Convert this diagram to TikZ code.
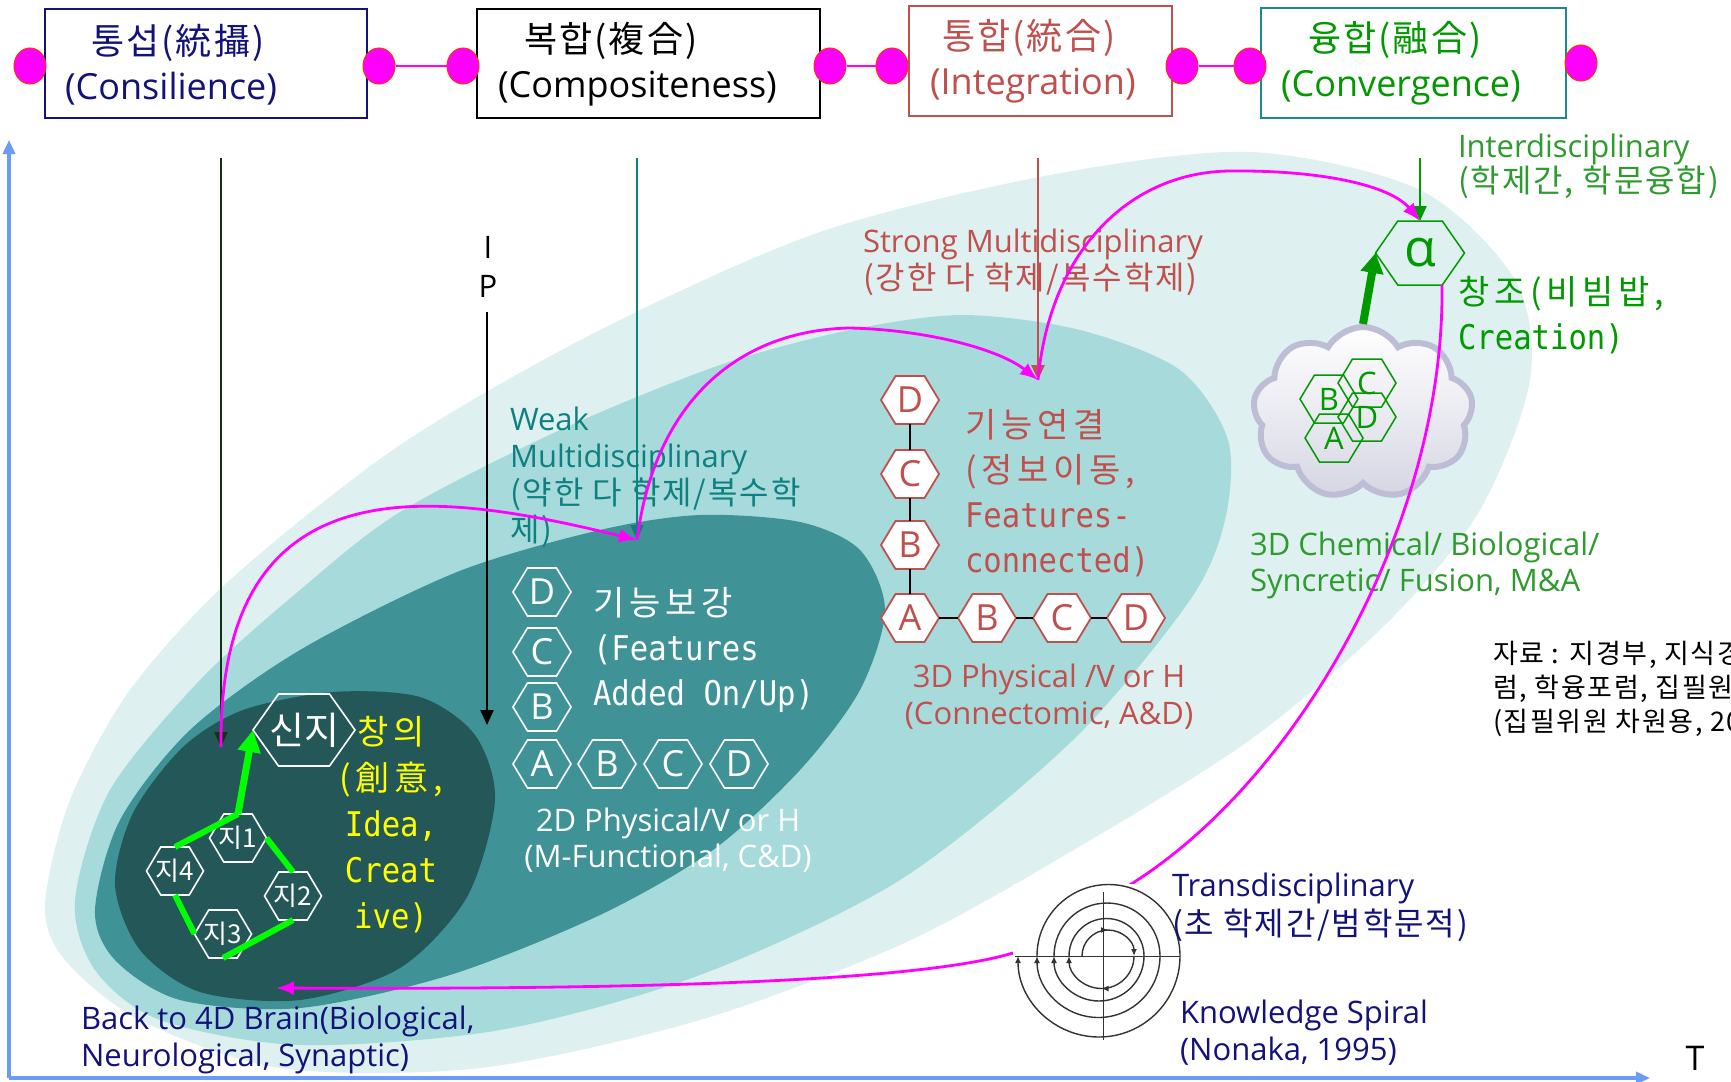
\documentclass[tikz,border=0pt]{standalone}
\usepackage{fontspec}
\setmainfont{Open Sans}
\newfontfamily\kr{Noto Sans CJK KR}
\newfontfamily\krw[LetterSpace=6]{Noto Sans CJK KR}
\newfontfamily\krm[LetterSpace=14]{Noto Sans CJK KR}
\newfontfamily\mono[FakeStretch=0.9]{DejaVu Sans Mono}
\usetikzlibrary{arrows.meta,calc,shapes.geometric,shapes.symbols,decorations.markings}
\newcommand\fsz[2]{\fontsize{#1}{#2}\selectfont}
\definecolor{bandA}{HTML}{DFF0F0}
\definecolor{bandB}{HTML}{A7DBDB}
\definecolor{bandC}{HTML}{3F9396}
\definecolor{bandD}{HTML}{245758}
\definecolor{navyT}{HTML}{12127A}
\definecolor{redT}{HTML}{C0504D}
\definecolor{tealT}{HTML}{0F8080}
\definecolor{boxTeal}{HTML}{1A8A8A}
\definecolor{greenL}{HTML}{009900}
\definecolor{greenT}{HTML}{2E9B2E}
\definecolor{glime}{HTML}{00FF00}
\definecolor{mag}{HTML}{FF00FF}
\definecolor{dotR}{HTML}{FF3300}
\definecolor{axisB}{HTML}{6B9BF5}
\definecolor{cloudE}{HTML}{BDBDD6}
\definecolor{cloudS}{HTML}{D6D6E4}
\definecolor{darkG}{HTML}{143214}
\definecolor{spiralC}{HTML}{333333}
\definecolor{yellowT}{HTML}{FFFF00}
% hexagon drawn from centre and half sizes, with a named node on top
\newcommand\hexnode[8]{%
  \path[#1] (#4-#6,#5) -- (#4-#6/2,#5-#7) -- (#4+#6/2,#5-#7) -- (#4+#6,#5)
     -- (#4+#6/2,#5+#7) -- (#4-#6/2,#5+#7) -- cycle;
  \node[hexlabel,#2,minimum width=2*#6,minimum height=2*#7] (#3) at (#4,#5) {#8};}
\begin{document}
\begin{tikzpicture}[x=1pt,y=-1pt,
  box/.style={draw,line width=1.8pt,inner sep=0pt},
  dot/.style={ellipse,fill=mag,draw=dotR,line width=1pt,minimum width=32pt,minimum height=36pt,inner sep=0pt},
  dotlink/.style={draw=mag,line width=2pt},
  lbl/.style={inner sep=0pt,outer sep=0pt,align=left,anchor=west},
  clbl/.style={inner sep=0pt,outer sep=0pt,align=center},
  hexlabel/.style={rectangle,inner sep=0pt,outer sep=0pt},
  hexW/.style={draw=white,line width=1.6pt},
  hexR/.style={draw=redT,fill=white,line width=1.8pt},
  hexG/.style={draw=greenL,line width=1.5pt},
  vline/.style={line width=2.2pt,-{Triangle[length=15pt,width=13pt]}},
  magarrow/.style={draw=mag,line width=2.8pt,-{Latex[length=18pt,width=14pt]}},
  link/.style={draw=black,line width=1.8pt},
  gline/.style={draw=glime,line width=6pt},
  garrow/.style={draw=glime,line width=7pt,-{Triangle[length=22pt,width=22pt]}},
  galpha/.style={draw=greenL,line width=8pt,-{Triangle[length=20pt,width=22pt]}},
  axis/.style={draw=axisB,line width=4pt,-{Triangle[length=14pt,width=12pt]}},
  spiral/.style={draw=spiralC,line width=1.4pt},
  tipS/.style={-{Latex[length=7pt,width=6pt]}},
  midtip/.style={postaction={decorate},decoration={markings,mark=at position 0.5 with {\arrow{Latex[length=7pt,width=6pt]}}}},
]
\useasboundingbox (0,0) rectangle (1731,1081);
\fill[white] (0,0) rectangle (1731,1081);

% nested bands
\fill[bandA] plot[smooth cycle] coordinates {(45,905) (70,800) (130,690) (230,580) (400,445) (600,330) (820,232) (1050,175) (1250,152) (1420,190) (1515,280) (1530,380) (1480,510) (1390,620) (1250,740) (1060,858) (900,945) (700,1020) (480,1068) (280,1068) (140,1020) (65,960)};
\fill[bandB] plot[smooth cycle] coordinates {(75,900) (110,790) (200,680) (300,590) (400,512) (560,430) (720,365) (850,330) (963,315) (1080,330) (1180,370) (1228,440) (1225,520) (1190,600) (1073,740) (900,880) (700,975) (500,1030) (300,1045) (160,1020) (95,970)};
\fill[bandC] plot[smooth cycle] coordinates {(95,910) (120,820) (190,730) (300,650) (457,572) (600,530) (700,515) (800,522) (860,550) (885,610) (860,690) (800,770) (713,850) (600,915) (450,975) (300,1008) (180,1000) (115,960)};
\fill[bandD] plot[smooth cycle] coordinates {(115,885) (133,813) (183,747) (243,710) (333,692) (420,697) (475,735) (495,800) (467,897) (400,968) (300,1000) (200,992) (140,950)};

% axes
\coordinate (org) at (9,1078);
\coordinate (ytop) at (9,140);
\coordinate (xend) at (1650,1078);
\draw[axis] (org) -- (ytop);
\draw[axis] (org) -- (xend);
\node[inner sep=0pt,anchor=north,font=\fsz{34}{36}] (taxis) at (1695,1046) {T};

% top boxes
\node[box,draw=navyT,minimum width=322pt,minimum height=109pt] (b1) at (206,63.5) {};
\node[box,draw=black,minimum width=343pt,minimum height=109pt] (b2) at (648.5,63.5) {};
\node[box,draw=redT,minimum width=263pt,minimum height=110pt] (b3) at (1040.5,61) {};
\node[box,draw=boxTeal,minimum width=305pt,minimum height=110pt] (b4) at (1413.5,63) {};
\node[lbl,text=navyT,font=\fsz{36}{45}] (t1) at (65,64.5) {{\krw\hspace*{26pt}통섭(統攝)}\\(Consilience)};
\node[lbl,text=black,font=\fsz{36}{45}] (t2) at (498,64.5) {{\krw\hspace*{26pt}복합(複合)}\\(Compositeness)};
\node[lbl,text=redT,font=\fsz{36}{45}] (t3) at (930,61) {{\krw\hspace*{12pt}통합(統合)}\\(Integration)};
\node[lbl,text=greenL,font=\fsz{36}{45}] (t4) at (1281,63) {{\krw\hspace*{27pt}융합(融合)}\\(Convergence)};

\node[dot] (d1) at (30,66) {};
\node[dot] (d2) at (379,66) {};
\node[dot] (d3) at (463,66) {};
\node[dot] (d4) at (830,66) {};
\node[dot] (d5) at (892,66) {};
\node[dot] (d6) at (1182,66) {};
\node[dot] (d7) at (1250,66) {};
\node[dot] (d8) at (1581,63) {};
\draw[dotlink] (d2) -- (d3);
\draw[dotlink] (d4) -- (d5);
\draw[dotlink] (d6) -- (d7);

% labels
\node[lbl,text=tealT,font=\fsz{31}{37}] (weak) at (510,477) {Weak\\Multidisciplinary\\{\krw\fsz{32}{37}(약한 다 학제/복수학}\\{\krw\fsz{32}{37}제)}};
\node[lbl,text=redT,font=\fsz{31}{37}] (strong) at (863,262) {Strong Multidisciplinary\\{\krw\fsz{32}{37}(강한 다 학제/복수학제)}};
\node[lbl,text=greenT,font=\fsz{31}{35}] (inter) at (1458,166) {Interdisciplinary\\{\krw\fsz{32}{35}(학제간, 학문융합)}};
\node[lbl,text=greenL,font=\fsz{34}{45}] (creation) at (1458,315) {{\krm 창조(비빔밥,}\\{\mono Creation)}};
\node[lbl,text=greenT,font=\fsz{31}{36}] (chem) at (1250,565) {3D Chemical/ Biological/\\Syncretic/ Fusion, M\&A};
\node[lbl,text=redT,font=\fsz{34}{45}] (fconn) at (965,493) {{\krm 기능연결}\\{\krm (정보이동,}\\{\mono Features-}\\{\mono connected)}};
\node[clbl,text=redT,font=\fsz{31}{37}] (phys3) at (1049,697) {3D Physical /V or H\\(Connectomic, A\&D)};
\node[lbl,text=white,font=\fsz{34}{45}] (fadd) at (593,650) {{\krm 기능보강}\\{\mono (Features}\\{\mono Added On/Up)}};
\node[clbl,text=white,font=\fsz{31}{36}] (phys2) at (668,840) {2D Physical/V or H\\(M-Functional, C\&D)};
\node[clbl,text=yellowT,font=\fsz{34}{46}] (idea) at (391,825) {{\krm 창의}\\{\krm (創意,}\\{\mono Idea,}\\{\mono Creat}\\{\mono ive)}};
\node[lbl,text=navyT,font=\fsz{31}{37}] (back) at (81,1040) {Back to 4D Brain(Biological,\\Neurological, Synaptic)};
\node[lbl,text=black,font={\krw\fsz{27}{34}}] (source) at (1493,689) {자료 : 지경부, 지식경\\럼, 학융포럼, 집필원\\(집필위원 차원용, 20};
\node[clbl,text=black,font=\fsz{31}{39}] (ip) at (488,267) {I\\P};

% 2D hexagons
\hexnode{hexW}{text=white,font=\fsz{36}{36}}{wD}{542}{592}{29}{24}{D}
\hexnode{hexW}{text=white,font=\fsz{36}{36}}{wC}{542}{652}{29}{24}{C}
\hexnode{hexW}{text=white,font=\fsz{36}{36}}{wB}{542}{707}{29}{24}{B}
\hexnode{hexW}{text=white,font=\fsz{36}{36}}{wA}{542}{764}{29}{24}{A}
\hexnode{hexW}{text=white,font=\fsz{36}{36}}{wB2}{607}{764}{29}{24}{B}
\hexnode{hexW}{text=white,font=\fsz{36}{36}}{wC2}{673}{764}{29}{24}{C}
\hexnode{hexW}{text=white,font=\fsz{36}{36}}{wD2}{739}{764}{29}{24}{D}

% 3D hexagons
\hexnode{hexR}{text=redT,font=\fsz{36}{36}}{pD}{910}{400}{29}{24}{D}
\hexnode{hexR}{text=redT,font=\fsz{36}{36}}{pC}{910}{474}{29}{24}{C}
\hexnode{hexR}{text=redT,font=\fsz{36}{36}}{pB}{910}{545}{29}{24}{B}
\hexnode{hexR}{text=redT,font=\fsz{36}{36}}{pA}{910}{618}{29}{24}{A}
\hexnode{hexR}{text=redT,font=\fsz{36}{36}}{pB2}{987}{618}{29}{24}{B}
\hexnode{hexR}{text=redT,font=\fsz{36}{36}}{pC2}{1062}{618}{29}{24}{C}
\hexnode{hexR}{text=redT,font=\fsz{36}{36}}{pD2}{1136}{618}{29}{24}{D}
\draw[link] (pD) -- (pC);
\draw[link] (pC) -- (pB);
\draw[link] (pB) -- (pA);
\draw[link] (pA) -- (pB2);
\draw[link] (pB2) -- (pC2);
\draw[link] (pC2) -- (pD2);

% brain hexagons
\hexnode{hexW}{text=white,font={\kr\fsz{38}{38}}}{sinji}{304}{730}{51}{36}{신지}
\hexnode{hexW}{text=white,font={\kr\fsz{26}{26}}}{j1}{238}{838}{28.5}{24}{지1}
\hexnode{hexW}{text=white,font={\kr\fsz{26}{26}}}{j2}{293}{896}{28.5}{24}{지2}
\hexnode{hexW}{text=white,font={\kr\fsz{26}{26}}}{j3}{223}{934}{28.5}{24}{지3}
\hexnode{hexW}{text=white,font={\kr\fsz{26}{26}}}{j4}{175}{871}{28.5}{24}{지4}
\draw[gline] (j4.north) -- (j1.north);
\draw[gline] (j1.east) -- (j2.north);
\draw[gline] (j2.south) -- (j3.south);
\draw[gline] (j3.west) -- (j4.south);
\draw[garrow] (j1.north) -- (sinji.west);

% cloud with merged hexagons
\node[cloud,cloud puffs=9,cloud puff arc=120,aspect=1.25,minimum width=220pt,minimum height=172pt,
      draw=cloudE,line width=6pt,top color=white,middle color=white,bottom color=cloudS] (cloud) at (1363,413) {};
\hexnode{hexG}{text=greenL,font=\fsz{31}{31}}{cB}{1329}{399}{29}{24}{B}
\hexnode{hexG}{text=greenL,font=\fsz{31}{31}}{cC}{1367}{383}{29}{24}{C}
\hexnode{hexG}{text=greenL,font=\fsz{31}{31}}{cD}{1367}{417}{29}{24}{D}
\hexnode{hexG}{text=greenL,font=\fsz{31}{31}}{cA}{1334}{438}{29}{24}{A}
\hexnode{hexG}{text=greenL,font=\fsz{52}{52}}{alpha}{1420}{253}{44.5}{32}{α}
\draw[galpha] (cloud.north) -- (alpha.west);

% vertical drop lines
\coordinate (v1a) at (221,158);
\coordinate (v1b) at (221,747);
\coordinate (v2a) at (637,158);
\coordinate (v2b) at (637,540);
\coordinate (v3a) at (487,312);
\coordinate (v3b) at (487,725);
\coordinate (v4a) at (1038,158);
\coordinate (v4b) at (1038,380);
\coordinate (v5a) at (1420,158);
\draw[vline,draw=darkG] (v1a) -- (v1b);
\draw[vline,draw=tealT] (v2a) -- (v2b);
\draw[vline,draw=black] (v3a) -- (v3b);
\draw[vline,draw=redT,line width=2.6pt] (v4a) -- (v4b);
\draw[vline,draw=greenL] (v5a) -- (alpha.north);

% magenta path through the stages
\coordinate (brainIn) at (276,988);
\draw[magarrow] (v1b) .. controls (218,455) and (440,492) .. (v2b);
\draw[magarrow] (v2b) .. controls (655,400) and (740,330) .. (850,328) .. controls (930,330) and (1000,350) .. (v4b);
\draw[magarrow] (v4b) .. controls (1050,250) and (1130,172) .. (1230,171) .. controls (1320,170) and (1390,185) .. (alpha.north);
\draw[magarrow] ($(alpha.south)+(22,0)$) .. controls (1445,520) and (1300,780) .. (1128,886)
   .. controls (1090,910) and (1050,935) .. (1013,953) .. controls (930,978) and (700,990) .. (brainIn);

% knowledge spiral on its white card
\node[fill=white,minimum width=155pt,minimum height=161pt,inner sep=0pt] (spiralbg) at (1090.5,964.5) {};
\coordinate (sc) at (1103,956);
\draw[draw=spiralC,line width=0.8pt] ($(sc)+(0,-64)$) -- ($(sc)+(0,84)$);
\draw[draw=spiralC,line width=0.8pt] ($(sc)+(-88,0)$) -- ($(sc)+(77,0)$);
\draw[spiral,midtip,tipS] (1082,956) arc[start angle=180,end angle=360,radius=26];
\draw[spiral,midtip,tipS] (1134,956) arc[start angle=0,end angle=180,radius=32.5];
\draw[spiral] (1069,956) arc[start angle=180,end angle=360,radius=37.5];
\draw[spiral,tipS] (1144,956) arc[start angle=0,end angle=180,radius=45];
\draw[spiral] (1054,956) arc[start angle=180,end angle=360,radius=53];
\draw[spiral,tipS] (1160,956) arc[start angle=0,end angle=180,radius=61.5];
\draw[spiral] (1037,956) arc[start angle=180,end angle=360,radius=71.5];
\draw[spiral,tipS] (1180,956) arc[start angle=0,end angle=180,radius=81];
\node[lbl,text=navyT,font=\fsz{31}{39}] (trans) at (1172,907) {Transdisciplinary\\{\krw\fsz{32}{39}(초 학제간/범학문적)}};
\node[lbl,text=navyT,font=\fsz{31}{37}] (spiraltxt) at (1180,1033) {Knowledge Spiral\\(Nonaka, 1995)};
\end{tikzpicture}
\end{document}
